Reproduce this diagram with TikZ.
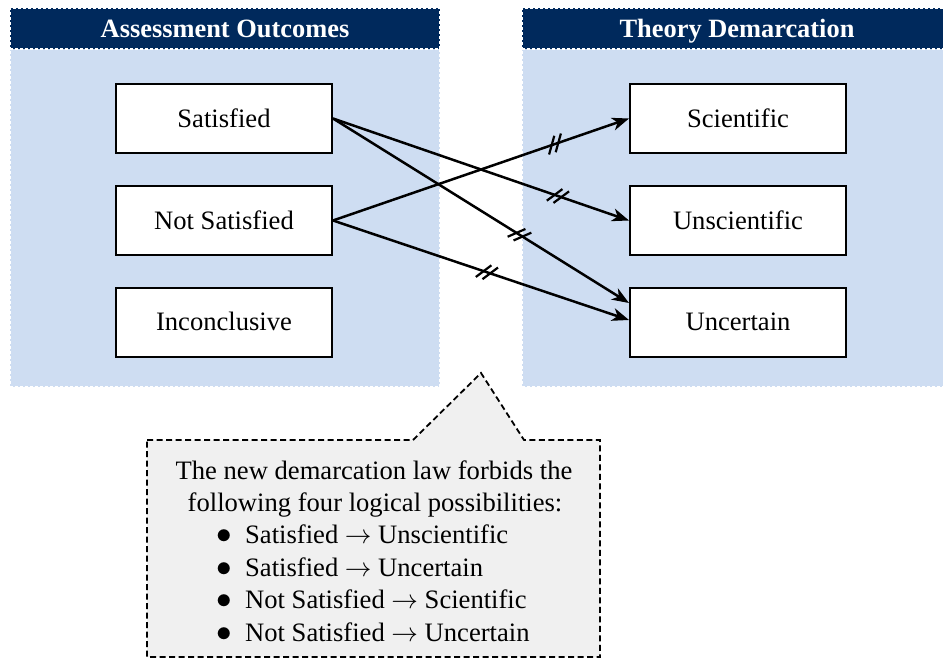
\RequirePackage{fix-cm}
\documentclass[tikz,border=0pt]{standalone}
\usepackage{fontspec}
\setmainfont{Liberation Serif}
\usetikzlibrary{arrows.meta,decorations.markings}
\definecolor{navy}{RGB}{0,41,92}
\definecolor{panelblue}{RGB}{206,221,242}
\definecolor{notegray}{RGB}{240,240,240}
\newcommand{\lawitem}{\makebox[28.5pt][l]{\smash{\scalebox{1.17}{$\bullet$}}}}

\begin{document}
\begin{tikzpicture}[x=1pt,y=1pt,
  txt/.style={font=\fontsize{26.6}{32}\selectfont},
  panelbody/.style={fill=panelblue, draw=white, line width=1.2pt,
    dash pattern=on 3pt off 2pt, minimum width=430pt, minimum height=338pt,
    inner sep=0pt, outer sep=0pt},
  panelhead/.style={fill=navy, draw=white, line width=1.2pt,
    dash pattern=on 3pt off 2pt, text=white, minimum width=430pt,
    minimum height=41pt, inner sep=0pt, outer sep=0pt,
    text height=23.5pt, text depth=6pt,
    font=\fontsize{26.4}{32}\selectfont\bfseries},
  stepbox/.style={txt, draw=black, fill=white, line width=2pt,
    minimum width=216pt, minimum height=69pt, inner sep=0pt,
    text height=23.5pt, text depth=6pt},
  link/.style={line width=2.5pt, -{Stealth[length=17pt,width=13pt,inset=5pt]}},
  breakmark/.style={postaction={decorate, decoration={markings,
    mark=at position #1 with {
      \draw[-, line width=2.2pt] (-9,-8) -- (2,8);
      \draw[-, line width=2.2pt] (-2,-8) -- (9,8);}}}},
  notebox/.style={fill=notegray, draw=black, line width=1.8pt,
    dash pattern=on 6pt off 3.5pt},
  noteline/.style={txt, anchor=base, inner sep=0pt},
  lawline/.style={txt, anchor=base west, inner sep=0pt}
]
\useasboundingbox (0,0) rectangle (943,-658);
\clip (0,0) rectangle (943,-658);

% the two panels with their title bars
\node[panelbody] (leftpanel) at (225,-218) {};
\node[panelhead] (lefthead) at (225,-28.5) {Assessment Outcomes};
\node[panelbody] (rightpanel) at (737,-218) {};
\node[panelhead] (righthead) at (737,-28.5) {Theory Demarcation};

% outcome and demarcation boxes
\node[stepbox] (sat) at (224,-118.5) {Satisfied};
\node[stepbox] (nsat) at (224,-220.5) {Not Satisfied};
\node[stepbox] (inc) at (224,-322) {Inconclusive};
\node[stepbox] (sci) at (738,-118.5) {Scientific};
\node[stepbox] (unsci) at (738,-220.5) {Unscientific};
\node[stepbox] (unc) at (738,-322) {Uncertain};

% forbidden links, each crossed by a double stroke
\draw[link, breakmark=0.76] (sat.east) -- (unsci.west);
\draw[link, breakmark=0.63] (sat.east) -- ([yshift=19pt]unc.west);
\draw[link, breakmark=0.75] (nsat.east) -- (sci.west);
\draw[link, breakmark=0.52] (nsat.east) -- ([yshift=2pt]unc.west);

% callout with the law
\draw[notebox] (147,-440) -- (413,-440) -- (481,-373) -- (524,-440)
  -- (600,-440) -- (600,-657) -- (147,-657) -- cycle;

\node[noteline] (note1) at (374,-479) {The new demarcation law forbids the};
\node[noteline] (note2) at (375,-511) {following four logical possibilities:};

\node[lawline] (i1) at (216.5,-543) {\lawitem Satisfied $\rightarrow$ Unscientific};
\node[lawline] (i2) at (216.5,-576) {\lawitem Satisfied $\rightarrow$ Uncertain};
\node[lawline] (i3) at (216.5,-608) {\lawitem Not Satisfied $\rightarrow$ Scientific};
\node[lawline] (i4) at (216.5,-641) {\lawitem Not Satisfied $\rightarrow$ Uncertain};
\end{tikzpicture}
\end{document}
